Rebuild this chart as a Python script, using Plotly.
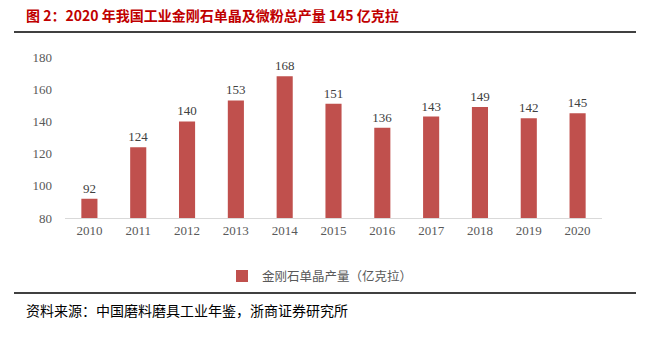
import plotly.graph_objects as go

years = ["2010", "2011", "2012", "2013", "2014", "2015", "2016", "2017", "2018", "2019", "2020"]
output = [92, 124, 140, 153, 168, 151, 136, 143, 149, 142, 145]
series_name = "金刚石单晶产量（亿克拉）"
title_text = "图 2：2020 年我国工业金刚石单晶及微粉总产量 145 亿克拉"
source_text = "资料来源：中国磨料磨具工业年鉴，浙商证券研究所"

serif = "Liberation Serif, Times New Roman, serif"
cjk = "Noto Sans CJK SC"

fig = go.Figure()
fig.add_trace(go.Bar(
    x=years, y=output, name=series_name,
    marker=dict(color="#C0504D", line=dict(width=0)),
    text=[str(v) for v in output], textposition="outside",
    textfont=dict(family=serif, size=13, color="#404040"),
    constraintext="none",
    cliponaxis=False,
))

fig.update_layout(
    width=650, height=352,
    margin=dict(l=65, r=48, t=57, b=134),
    paper_bgcolor="white", plot_bgcolor="white",
    bargap=0.67,
    showlegend=True,
    legend=dict(orientation="h", x=(222 - 65) / 537, xanchor="left", y=-0.27, yanchor="top",
                font=dict(family=cjk, size=12.5, color="#595959")),
    xaxis=dict(showline=True, linecolor="#D9D9D9", linewidth=1, ticks="",
               tickfont=dict(family=serif, size=13, color="#595959"), showgrid=False),
    yaxis=dict(range=[80, 180], dtick=20, showgrid=False, showline=False, ticks="",
               ticklabelstandoff=12, zeroline=False,
               tickfont=dict(family=serif, size=13, color="#595959")),
    font=dict(family=cjk),
)

fig.add_annotation(text="<b>" + title_text + "</b>", xref="paper", yref="paper",
                   x=(24 - 65) / 537, y=(352 - 134 - 15) / 161, xanchor="left", yanchor="middle",
                   showarrow=False, font=dict(family=cjk, size=14, color="#C00000"))
fig.add_annotation(text=source_text, xref="paper", yref="paper",
                   x=(24 - 65) / 537, y=(352 - 134 - 310) / 161, xanchor="left", yanchor="middle",
                   showarrow=False, font=dict(family=cjk, size=14, color="#000000"))

fig.add_shape(type="line", xref="paper", yref="paper",
              x0=(14 - 65) / 537, x1=(636 - 65) / 537,
              y0=(352 - 134 - 32) / 161, y1=(352 - 134 - 32) / 161,
              line=dict(color="black", width=1.5))
fig.add_shape(type="line", xref="paper", yref="paper",
              x0=(14 - 65) / 537, x1=(636 - 65) / 537,
              y0=(352 - 134 - 293) / 161, y1=(352 - 134 - 293) / 161,
              line=dict(color="black", width=1.5))

fig.write_html("out.html")
